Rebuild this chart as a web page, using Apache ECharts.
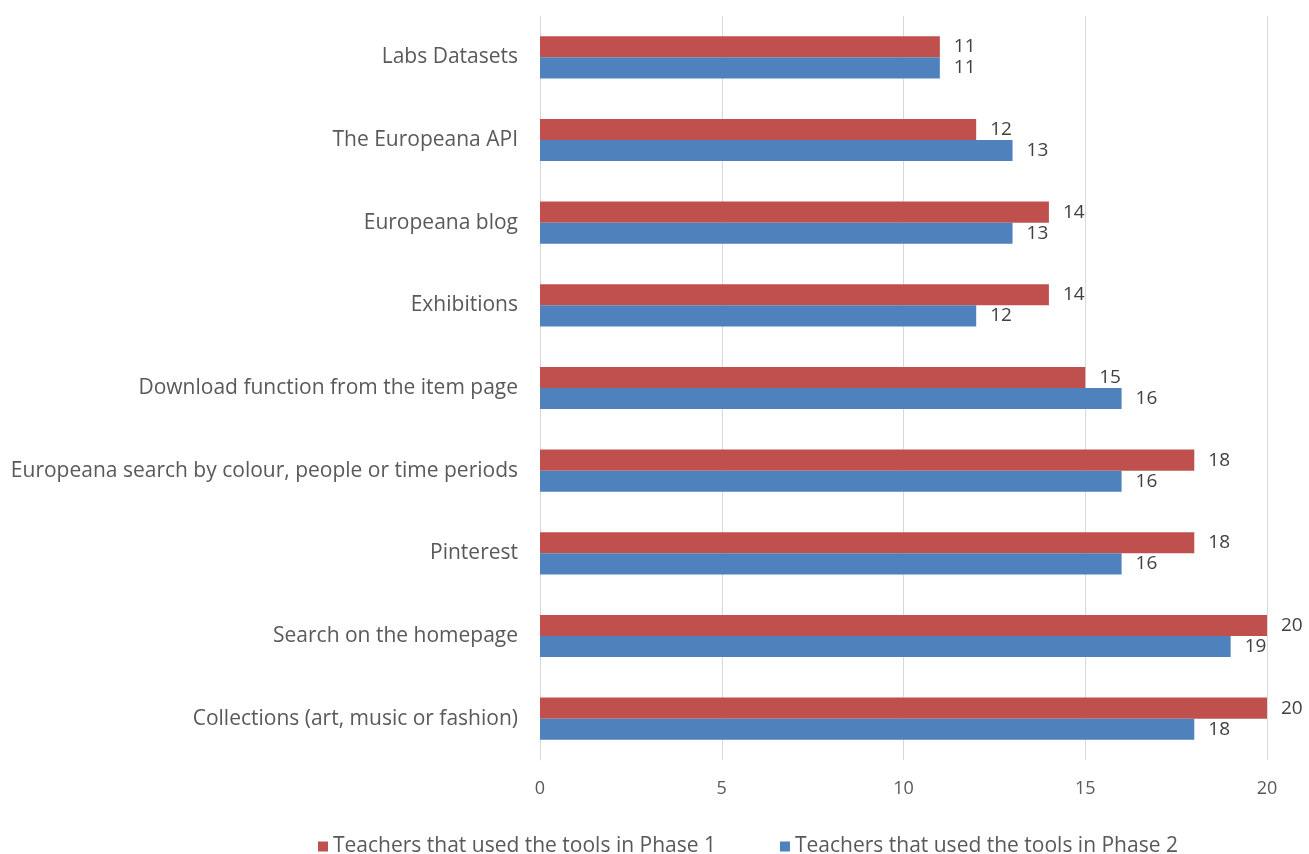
<!DOCTYPE html>
<html>
<head>
<meta charset="utf-8">
<script src="https://cdn.jsdelivr.net/npm/echarts@6/dist/echarts.min.js"></script>
<style>html,body{margin:0;padding:0;background:#fff;}#chart{width:1309px;height:854px;}</style>
</head>
<body>
<div id="chart"></div>
<script>
const categories = [
  "Collections (art, music or fashion)",
  "Search on the homepage",
  "Pinterest",
  "Europeana search by colour, people or time periods",
  "Download function from the item page",
  "Exhibitions",
  "Europeana blog",
  "The Europeana API",
  "Labs Datasets"
];
const phase1 = [20, 20, 18, 18, 15, 14, 14, 12, 11];
const phase2 = [18, 19, 16, 16, 16, 12, 13, 13, 11];
const seriesNames = ["Teachers that used the tools in Phase 1", "Teachers that used the tools in Phase 2"];
const xTicks = [0, 5, 10, 15, 20];

const FONT = "'Open Sans', sans-serif";
const chart = echarts.init(document.getElementById('chart'));
const labelStyle = {show: true, position: 'right', distance: 14, color: '#404040', fontSize: 19, fontFamily: FONT};
chart.setOption({
  animation: false,
  textStyle: {fontFamily: FONT},
  grid: {left: 540, right: 42, top: 16, bottom: 94, containLabel: false},
  legend: {
    data: seriesNames,
    top: 831,
    left: 313,
    itemWidth: 10, itemHeight: 10, itemGap: 64,
    icon: 'rect',
    textStyle: {color: '#595959', fontSize: 21, fontFamily: FONT}
  },
  xAxis: {
    type: 'value', min: xTicks[0], max: xTicks[xTicks.length - 1], interval: 5,
    axisLine: {show: false}, axisTick: {show: false},
    splitLine: {lineStyle: {color: '#d9d9d9', width: 1}},
    axisLabel: {color: '#595959', fontSize: 18, margin: 20, fontFamily: FONT}
  },
  yAxis: {
    type: 'category', data: categories,
    axisLine: {show: true, lineStyle: {color: '#d9d9d9'}},
    axisTick: {show: false},
    axisLabel: {color: '#595959', fontSize: 21, margin: 22, fontFamily: FONT}
  },
  series: [
    {name: seriesNames[0], type: 'bar', data: phase1, itemStyle: {color: '#C0504D'}, barGap: '0%', barCategoryGap: '49%', label: labelStyle},
    {name: seriesNames[1], type: 'bar', data: phase2, itemStyle: {color: '#4F81BD'}, barGap: '0%', barCategoryGap: '49%', label: labelStyle}
  ]
});
</script>
</body>
</html>
